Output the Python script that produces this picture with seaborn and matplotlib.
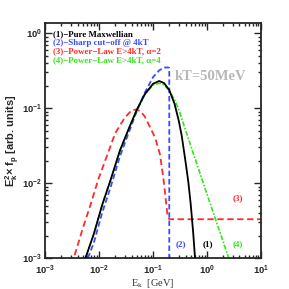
import numpy as np
import pandas as pd
import matplotlib
matplotlib.use("Agg")
import matplotlib.pyplot as plt
import seaborn as sns

# values (E_k in GeV, E^2 f in arb. units)
e_max = [0.0056, 0.008, 0.0115, 0.016, 0.0245, 0.035, 0.05, 0.07, 0.1, 0.13,
         0.16, 0.2, 0.25, 0.3, 0.34, 0.4, 0.45, 0.5, 0.557, 0.6, 0.65]
y_max = [0.001, 0.0021, 0.0052, 0.0105, 0.0275, 0.052, 0.0953, 0.153, 0.212, 0.231,
         0.217, 0.175, 0.115, 0.068, 0.043, 0.0194, 0.0105, 0.0052, 0.0021, 0.001, 0.0004]

e_cut = [0.0062, 0.008, 0.0115, 0.016, 0.0245, 0.035, 0.05, 0.07, 0.1, 0.13,
         0.16, 0.19, 0.2, 0.2]
y_cut = [0.001, 0.0016, 0.0041, 0.0084, 0.023, 0.046, 0.091, 0.16, 0.26, 0.32,
         0.35, 0.35, 0.345, 0.0001]

e_pl2 = [0.0030, 0.0034, 0.005, 0.0071, 0.0097, 0.0153, 0.0198, 0.03, 0.0403, 0.048,
         0.058, 0.07, 0.088, 0.11, 0.135, 0.16, 0.184, 0.2, 10.0]
y_pl2 = [0.0006, 0.001, 0.0025, 0.0054, 0.0113, 0.0275, 0.046, 0.075, 0.094, 0.096,
         0.092, 0.078, 0.056, 0.04, 0.024, 0.0099, 0.0039, 0.0033, 0.0033]

e_pl4 = [0.0056, 0.008, 0.0115, 0.016, 0.0245, 0.035, 0.05, 0.07, 0.1, 0.13,
         0.16, 0.2, 0.25, 0.294, 0.42, 0.8, 1.41, 2.48, 2.8]
y_pl4 = [0.001, 0.0021, 0.0052, 0.0105, 0.0275, 0.052, 0.095, 0.15, 0.205, 0.215,
         0.205, 0.172, 0.13, 0.1, 0.046, 0.0115, 0.00344, 0.00104, 0.0008]

legend_text = ["(1)\u2212Pure Maxwellian",
               "(2)\u2212Sharp cut\u2212off @ 4kT",
               "(3)\u2212Power\u2212Law E>4kT, \u03b1=2",
               "(4)\u2212Power\u2212Law E>4kT, \u03b1=4"]
colors = ["black", "#3a4cff", "#ff2a2a", "#33e61a"]

sns.set_style("ticks")
plt.rcParams["font.family"] = ["Liberation Sans", "DejaVu Sans"]
plt.rcParams["font.weight"] = "bold"

fig = plt.figure(figsize=(2.89, 2.89), dpi=100)
ax = fig.add_axes([0.156, 0.107, 0.747, 0.814])

curves = [(e_max, y_max, "-", 1.3), (e_cut, y_cut, (0, (3, 1.6)), 1.3),
          (e_pl2, y_pl2, (0, (3.5, 2)), 1.3), (e_pl4, y_pl4, (0, (3, 1, 1, 1)), 1.2)]
for i, (e, y, ls, lw) in enumerate(curves):
    df = pd.DataFrame({"E": e, "y": y})
    sns.lineplot(data=df, x="E", y="y", ax=ax, color=colors[i], linestyle=ls,
                 linewidth=lw, estimator=None, sort=False, legend=False)
# draw black on top
ax.lines[0].set_zorder(5)

ax.set_xscale("log")
ax.set_yscale("log")
ax.set_xlim(1e-3, 10)
ax.set_ylim(1e-3, 1.38)

for s in ax.spines.values():
    s.set_linewidth(1.3)
ax.tick_params(which="both", direction="in", top=True, right=True, width=1.0)
ax.tick_params(which="major", length=5, labelsize=6.8, pad=2)
ax.tick_params(axis="x", which="major", pad=4)
ax.tick_params(which="minor", length=2.5)
for lab in ax.get_xticklabels() + ax.get_yticklabels():
    lab.set_fontweight("bold")

ax.set_xlabel("E$_\\mathregular{k}$  [GeV]", family="Liberation Serif",
              fontweight="normal", fontsize=7.5, color="#333333", labelpad=0)
ax.set_ylabel("E$_\\mathregular{k}^\\mathregular{2}$\u00d7 f$_\\mathregular{p}$ [arb. units]",
              fontsize=8, fontweight="bold")
ax.yaxis.set_label_coords(-0.105, 0.5)

for i, t in enumerate(legend_text):
    ax.text(0.035, 0.97 - i * 0.037, t, transform=ax.transAxes, color=colors[i],
            family="Liberation Serif", fontweight="bold", fontsize=6.4, va="top")

ax.text(0.6, 0.77, "kT=50MeV", transform=ax.transAxes, color="#b8b8b8",
        family="Liberation Serif", fontweight="bold", fontsize=10.5, va="center")

ax.text(0.87, 0.255, "(3)", transform=ax.transAxes, color=colors[2],
        family="Liberation Serif", fontsize=6.5, fontweight="bold", va="center")
ax.text(0.605, 0.06, "(2)", transform=ax.transAxes, color=colors[1],
        family="Liberation Serif", fontsize=6.5, fontweight="bold", va="center")
ax.text(0.73, 0.06, "(1)", transform=ax.transAxes, color="black",
        family="Liberation Serif", fontsize=6.5, fontweight="bold", va="center")
ax.text(0.87, 0.06, "(4)", transform=ax.transAxes, color=colors[3],
        family="Liberation Serif", fontsize=6.5, fontweight="bold", va="center")

fig.savefig("out.png", dpi=100)
